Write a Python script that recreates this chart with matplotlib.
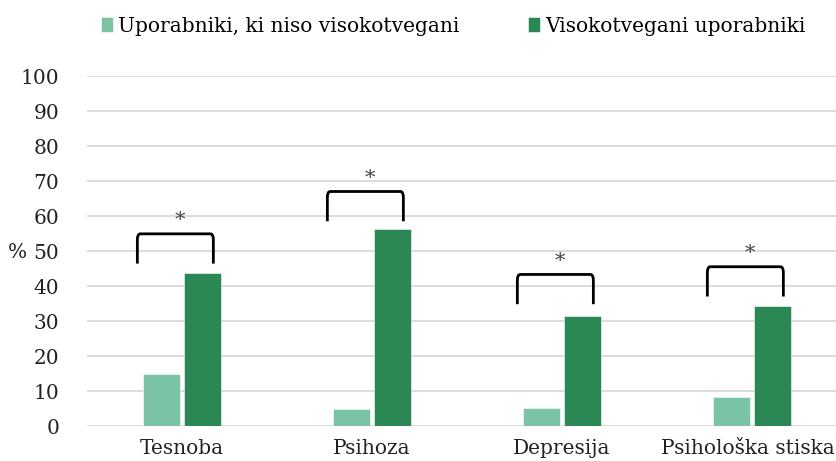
import matplotlib
matplotlib.use("Agg")
import matplotlib.pyplot as plt
from matplotlib.path import Path
from matplotlib.patches import PathPatch
import matplotlib.transforms as mtransforms
import numpy as np

categories = ["Tesnoba", "Psihoza", "Depresija", "Psihološka stiska"]
series_names = ["Uporabniki, ki niso visokotvegani", "Visokotvegani uporabniki"]
low_risk = [15.0, 4.8, 5.2, 8.4]
high_risk = [43.8, 56.2, 31.4, 34.2]
bracket_top = [54.9, 67.0, 43.3, 45.5]
bracket_drop = 8.5
yticks = [0, 10, 20, 30, 40, 50, 60, 70, 80, 90, 100]

colors = ["#7BC3A5", "#2B8754"]

plt.rcParams['font.family'] = ['DejaVu Serif']
FS = 14.5

fig = plt.figure(figsize=(8.37, 4.61), dpi=100)
ax = fig.add_axes([87/837, 35/461, 760/837, (426-76)/461])

x = np.arange(len(categories))
w = 0.195
off = 0.108
ax.bar(x - off, low_risk, w, color=colors[0], label=series_names[0], zorder=3,
       edgecolor="white", linewidth=0.4)
ax.bar(x + off, high_risk, w, color=colors[1], label=series_names[1], zorder=3,
       edgecolor="white", linewidth=0.4)

ax.set_xlim(-0.5, 3.5)
ax.set_ylim(0, 100)
ax.set_yticks(yticks)
ax.set_yticklabels([str(t) for t in yticks], fontsize=FS)
ax.set_xticks(x)
ax.set_xticklabels(categories, fontsize=FS)
ax.tick_params(axis='both', length=0, colors="#222222")
ax.tick_params(axis='y', pad=20)
ax.tick_params(axis='x', pad=9)
for s in ax.spines.values():
    s.set_visible(False)
ax.grid(axis='y', color="#d9d9d9", linewidth=1.3, zorder=0)
ax.set_axisbelow(True)

# keep the last category label inside the figure
last = ax.get_xticklabels()[-1]
last.set_transform(last.get_transform() +
                   mtransforms.ScaledTranslation(-4/100, 0, fig.dpi_scale_trans))

# brackets with rounded corners
for i, top in enumerate(bracket_top):
    xl = i - 0.235
    xr = i + 0.165
    yb = top - bracket_drop
    rx = 0.016
    ry = 1.6
    verts = [(xl, yb), (xl, top - ry), (xl, top), (xl + rx, top),
             (xr - rx, top), (xr, top), (xr, top - ry), (xr, yb)]
    codes = [Path.MOVETO, Path.LINETO, Path.CURVE3, Path.CURVE3,
             Path.LINETO, Path.CURVE3, Path.CURVE3, Path.LINETO]
    ax.add_patch(PathPatch(Path(verts, codes), fill=False, edgecolor="black",
                           linewidth=2.0, zorder=4, capstyle='butt'))
    ax.text(i - 0.01, top + 1.0, "*", ha='center', va='bottom', fontsize=15,
            color="#444444", zorder=4)

fig.text(17/837, 1 - 252/461, "%", ha='center', va='center', fontsize=FS, color="#222222")

handles, labels = ax.get_legend_handles_labels()
leg = fig.legend(handles, labels, loc='center', bbox_to_anchor=(453/837, 1 - 26/461),
                 ncol=2, frameon=False, fontsize=FS, handlelength=0.6, handleheight=0.8,
                 handletextpad=0.25, columnspacing=3.4)

fig.savefig("out.png", dpi=100)
